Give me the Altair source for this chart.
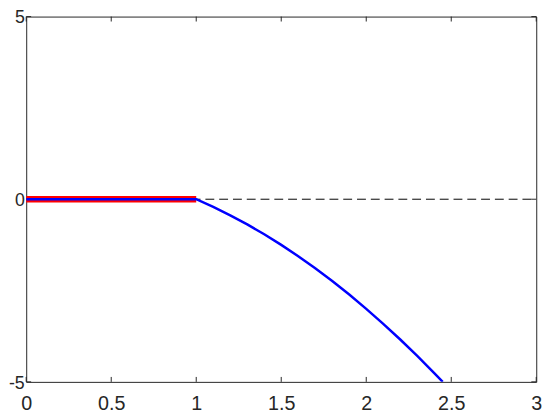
import altair as alt
import pandas as pd

# Data
dash_x = [0, 3]
dash_y = [0, 0]

red_x = [0, 1]
red_y = [0, 0]

blue_x = [0.0, 0.5, 1.0, 1.1, 1.2, 1.3, 1.4, 1.5, 1.6, 1.7, 1.8, 1.9, 2.0, 2.1, 2.2, 2.3, 2.4, 2.45]
blue_y = [0.0, 0.0, 0.0, -0.21, -0.44, -0.69, -0.96, -1.25, -1.56, -1.89, -2.24, -2.61, -3.0, -3.41, -3.84, -4.29, -4.76, -5.0]

x_ticks = [0, 0.5, 1, 1.5, 2, 2.5, 3]
y_ticks = [-5, 0, 5]

W, H = 518, 371
AXC = "#262626"
FONT = "Liberation Sans"

xs = alt.Scale(domain=[0, 3], nice=False, zero=False)
ys = alt.Scale(domain=[-5, 5], nice=False, zero=False)

x_axis = alt.Axis(values=x_ticks, grid=False, ticks=False, domain=False, labelFlush=False,
                  labelOverlap=False, labelFontSize=20, labelFont=FONT, labelColor=AXC,
                  labelPadding=12, title=None, labelExpr="'' + datum.value")
y_axis = alt.Axis(values=y_ticks, grid=False, ticks=False, domain=False, labelFlush=False,
                  labelOverlap=False, labelFontSize=18, labelFont=FONT, labelColor=AXC,
                  labelPadding=2, labelBaseline="alphabetic", labelOffset=6.5,
                  title=None, labelExpr="'' + datum.value")

dash_df = pd.DataFrame({"x": dash_x, "y": dash_y})
red_df = pd.DataFrame({"x": red_x, "y": red_y})
blue_df = pd.DataFrame({"x": blue_x, "y": blue_y, "o": list(range(len(blue_x)))})
xt_df = pd.DataFrame({"t": x_ticks})
yt_df = pd.DataFrame({"t": y_ticks})

dash = alt.Chart(dash_df).mark_line(color="black", strokeWidth=1, strokeDash=[9, 5]).encode(
    x=alt.X("x:Q", scale=xs, axis=x_axis),
    y=alt.Y("y:Q", scale=ys, axis=y_axis),
)
red = alt.Chart(red_df).mark_line(color="#FF0000", strokeWidth=6.5, strokeCap="butt").encode(
    x=alt.X("x:Q", scale=xs), y=alt.Y("y:Q", scale=ys)
)
blue = alt.Chart(blue_df).mark_line(color="#0000FF", strokeWidth=2.5, clip=True).encode(
    x=alt.X("x:Q", scale=xs), y=alt.Y("y:Q", scale=ys), order="o:Q"
)

tb = alt.Chart(xt_df).mark_rule(color=AXC, strokeWidth=1).encode(
    x=alt.X("t:Q", scale=xs), y=alt.value(H), y2=alt.value(H - 5))
tt = alt.Chart(xt_df).mark_rule(color=AXC, strokeWidth=1).encode(
    x=alt.X("t:Q", scale=xs), y=alt.value(0), y2=alt.value(5))
tl = alt.Chart(yt_df).mark_rule(color=AXC, strokeWidth=1).encode(
    y=alt.Y("t:Q", scale=ys), x=alt.value(0), x2=alt.value(5))
tr = alt.Chart(yt_df).mark_rule(color=AXC, strokeWidth=1).encode(
    y=alt.Y("t:Q", scale=ys), x=alt.value(W), x2=alt.value(W - 5))

chart = alt.layer(tb, tt, tl, tr, dash, red, blue).properties(
    width=W, height=H,
    autosize=alt.AutoSizeParams(type="none"),
    padding={"left": 18.5, "top": 5.5, "right": 16, "bottom": 35},
).configure(background="white").configure_view(stroke=AXC, strokeWidth=1)

chart.save("out.html", embed_options={"renderer": "svg", "actions": False})
